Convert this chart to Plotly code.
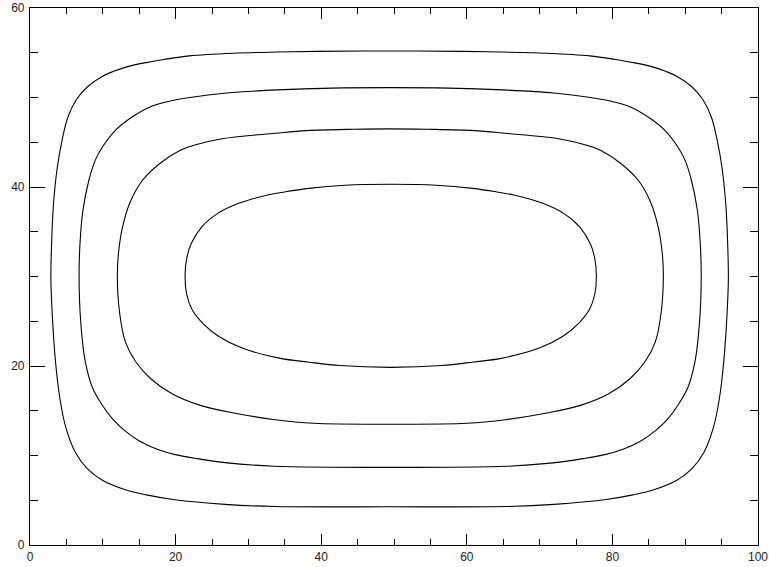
import plotly.graph_objects as go

# Contour lines (data coordinates), traced clockwise from the left side
outer_x = [2.87, 2.98, 3.2, 3.7, 4.4, 5.2, 6.4, 7.9, 9.9, 11.4, 13.4, 15.9, 18.4, 21.9, 27.9, 33.9, 39.4, 49.4,
           59.4, 64.9, 70.9, 76.9, 80.4, 82.9, 85.4, 87.4, 88.9, 90.9, 92.4, 93.6, 94.4, 95.1, 95.6, 95.82, 95.93,
           95.7, 95.3, 94.7, 93.9, 92.6, 90.9, 88.8, 85.8, 82.8, 78.9, 72.0, 65.2, 49.4,
           33.6, 26.8, 19.9, 16.0, 13.0, 10.0, 7.9, 6.2, 4.9, 4.1, 3.5, 3.1, 2.87]
outer_y = [29.7, 34.0, 37.8, 41.9, 45.2, 47.8, 49.8, 51.2, 52.35, 52.9, 53.45, 53.9, 54.25, 54.65, 54.95, 55.08, 55.15, 55.2,
           55.15, 55.08, 54.95, 54.65, 54.25, 53.9, 53.45, 52.9, 52.35, 51.2, 49.8, 47.8, 45.2, 41.9, 37.8, 34.0, 29.7,
           25.1, 20.5, 16.4, 13.2, 10.4, 8.5, 7.2, 6.2, 5.6, 5.05, 4.54, 4.3, 4.27,
           4.3, 4.54, 5.05, 5.6, 6.2, 7.2, 8.5, 10.4, 13.2, 16.4, 20.5, 25.1, 29.7]

second_x = [6.74, 6.87, 7.27, 8.07, 8.97, 9.97, 11.57, 13.72, 16.47, 18.97, 21.97, 26.97, 33.97, 41.47, 49.47,
            57.47, 64.97, 71.97, 76.97, 79.97, 82.47, 85.22, 87.37, 88.97, 89.97, 90.87, 91.67, 92.07, 92.2,
            91.97, 91.37, 90.37, 89.07, 87.67, 85.97, 83.97, 81.47, 78.97, 75.97, 71.47, 65.47, 49.47,
            33.47, 27.47, 22.97, 19.97, 17.47, 14.97, 12.97, 11.27, 9.87, 8.57, 7.57, 6.97, 6.74]
second_y = [29.9, 33.7, 37.4, 40.7, 43.0, 44.5, 46.2, 47.65, 48.95, 49.55, 50.0, 50.5, 50.85, 51.05, 51.1,
            51.05, 50.85, 50.5, 50.0, 49.55, 48.95, 47.65, 46.2, 44.5, 43.0, 40.7, 37.4, 33.7, 29.9,
            24.9, 20.6, 17.6, 15.7, 14.15, 12.8, 11.65, 10.7, 10.1, 9.65, 9.15, 8.8, 8.67,
            8.8, 9.15, 9.65, 10.1, 10.7, 11.65, 12.8, 14.15, 15.7, 17.6, 20.6, 24.9, 29.9]

third_x = [12.0, 12.15, 12.7, 13.75, 15.4, 17.8, 20.65, 22.9, 26.4, 33.7, 38.0, 44.5, 49.5,
           54.5, 61.0, 65.3, 72.6, 76.1, 78.35, 81.2, 83.6, 85.25, 86.3, 86.85, 87.0,
           86.7, 85.9, 84.5, 82.45, 79.5, 75.6, 71.0, 65.3, 60.0, 49.5,
           39.0, 33.7, 28.0, 23.4, 19.5, 16.55, 14.5, 13.1, 12.3, 12.0]
third_y = [30.0, 32.6, 35.5, 38.3, 40.7, 42.6, 44.1, 44.75, 45.4, 46.0, 46.3, 46.45, 46.5,
           46.45, 46.3, 46.0, 45.4, 44.75, 44.1, 42.6, 40.7, 38.3, 35.5, 32.6, 30.0,
           26.0, 22.7, 20.5, 18.6, 16.9, 15.6, 14.75, 14.0, 13.6, 13.5,
           13.6, 14.0, 14.75, 15.6, 16.9, 18.6, 20.5, 22.7, 26.0, 30.0]

inner_x = [21.3, 21.5, 22.1, 23.6, 25.7, 28.75, 32.65, 35.0, 38.3, 43.3, 49.55,
           55.8, 60.8, 64.1, 66.45, 70.35, 73.4, 75.5, 77.0, 77.6, 77.8,
           77.6, 76.9, 75.4, 73.15, 69.95, 64.7, 60.95, 56.55, 49.55,
           42.55, 38.15, 34.4, 29.15, 25.95, 23.7, 22.2, 21.5, 21.3]
inner_y = [30.1, 31.9, 33.6, 35.55, 37.0, 38.2, 39.1, 39.45, 39.85, 40.2, 40.3,
           40.2, 39.85, 39.45, 39.1, 38.2, 37.0, 35.55, 33.6, 31.9, 30.1,
           28.1, 26.4, 24.8, 23.3, 22.0, 20.85, 20.45, 20.05, 19.85,
           20.05, 20.45, 20.85, 22.0, 23.3, 24.8, 26.4, 28.1, 30.1]

x_ticks = [0, 20, 40, 60, 80, 100]
y_ticks = [0, 20, 40, 60]

fig = go.Figure()
for xs, ys in [(outer_x, outer_y), (second_x, second_y), (third_x, third_y), (inner_x, inner_y)]:
    fig.add_trace(go.Scatter(x=xs, y=ys, mode="lines",
                             line=dict(color="black", width=1.1, shape="spline", smoothing=1.0),
                             showlegend=False, hoverinfo="skip"))

axis_common = dict(showgrid=False, zeroline=False, showline=True, linecolor="black", linewidth=1.2,
                   mirror="ticks", ticks="inside", tickcolor="black", tickwidth=1,
                   tickfont=dict(family="Liberation Sans, Arial, sans-serif", size=12, color="#222"))

fig.update_layout(
    width=769, height=567,
    margin=dict(l=30, r=11, t=8, b=22),
    paper_bgcolor="white", plot_bgcolor="white",
    xaxis=dict(range=[0, 100], tickvals=x_ticks, ticktext=[str(v) for v in x_ticks], ticklen=11,
               minor=dict(dtick=5, ticks="inside", ticklen=6, tickcolor="black", tickwidth=1),
               automargin=False, **axis_common),
    yaxis=dict(range=[0, 60], tickvals=y_ticks, ticktext=[str(v) for v in y_ticks], ticklen=15,
               minor=dict(dtick=5, ticks="inside", ticklen=8, tickcolor="black", tickwidth=1),
               automargin=False, ticklabelstandoff=2, **axis_common),
)

fig.write_html("out.html", config={"displayModeBar": False},
               post_script="document.body.style.margin='0';document.body.style.overflow='hidden';")
